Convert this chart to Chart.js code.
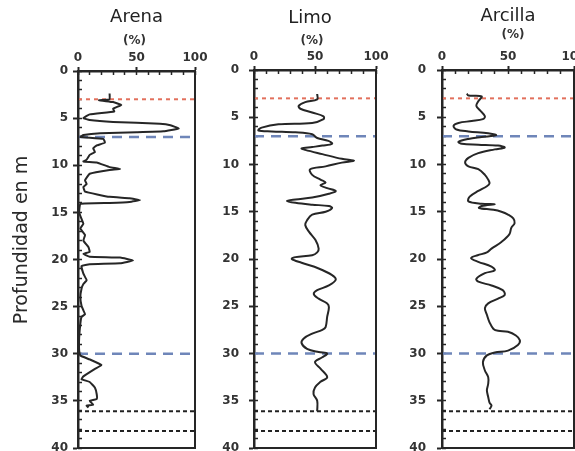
<!DOCTYPE html>
<html>
<head>
<meta charset="utf-8">
<script src="https://cdn.jsdelivr.net/npm/chart.js@4.4.1/dist/chart.umd.min.js"></script>
<style>
  html, body { margin: 0; padding: 0; background: #fff; overflow: hidden; width: 575px; height: 451px; }
  canvas { position: absolute; left: 0; top: 0; }
</style>
</head>
<body>
<canvas id="arena" width="575" height="451"></canvas>
<canvas id="limo" width="575" height="451"></canvas>
<canvas id="arcilla" width="600" height="451"></canvas>
<script>
// percent (x) against depth in m (y)
const arenaPct = [27, 27, 18, 30, 37, 30, 31, 10, 4.6, 10, 30, 70, 79, 86, 73, 50, 19, 4.6, 2, 21.7,
  23, 16, 13, 14.5, 10, 7.4, 4.6, 16, 27, 36, 27, 10, 6, 7.4, 4.6, 6, 27, 44, 53, 44,
  27, 2, 1, 3, 4.6, 2, 6, 4.6, 9, 10, 4.6, 10, 36, 47, 36, 10, 3, 4.6, 7.4, 4.6,
  3, 2, 3, 4.6, 6, 3, 2, 1, 1, 2, 10, 20, 14.5, 4.6, 3, 10, 14.5, 16, 16, 10,
  13, 7.4, 9];
const arenaDepth = [2.4, 3.0, 3.1, 3.3, 3.6, 4.0, 4.3, 4.6, 5.0, 5.2, 5.4, 5.6, 5.75, 6.1, 6.4, 6.5, 6.6, 6.8, 7.0, 7.2,
  7.6, 7.9, 8.2, 8.6, 8.9, 9.4, 9.6, 9.7, 10.2, 10.4, 10.5, 10.9, 11.6, 12.0, 12.3, 12.8, 13.35, 13.5, 13.7, 13.9,
  14.0, 14.1, 15.0, 15.7, 16.2, 16.7, 17.4, 18.0, 18.7, 19.2, 19.4, 19.7, 19.8, 20.1, 20.4, 20.5, 20.7, 21.5, 22.2, 22.6,
  23.1, 24.0, 24.9, 25.4, 25.8, 26.1, 26.8, 28.3, 29.7, 30.2, 30.6, 31.2, 31.6, 32.4, 32.7, 33.0, 33.6, 34.3, 34.8, 35.0,
  35.4, 35.5, 35.7];

const limoPct = [51.8, 51.8, 42, 36.6, 38, 47.7, 57, 57, 47.7, 20, 6.3, 3.6, 14.6, 34, 47.7, 51.8, 61, 64, 56, 47.7,
  39, 42, 56, 72, 82, 72, 58.7, 46, 47.7, 54.5, 58.7, 54.5, 60, 67, 61.4, 47.7, 34, 27, 34, 47.7,
  61.4, 64, 58.7, 47.7, 43.5, 42, 45, 50.4, 53, 51.8, 47.7, 34, 31, 39, 53, 64, 67, 61.4, 51.8, 49,
  53, 60, 61.4, 60, 58.7, 56, 47.7, 40.8, 39, 43.5, 53, 60, 56, 50, 54.5, 60, 54.5, 50, 48.8, 51.8,
  51.8];
const limoDepth = [2.55, 3.1, 3.4, 3.8, 4.1, 4.5, 4.9, 5.2, 5.6, 5.75, 6.1, 6.4, 6.5, 6.6, 6.8, 7.2, 7.5, 7.8, 8.0, 8.15,
  8.3, 8.45, 8.9, 9.4, 9.6, 9.8, 10.2, 10.5, 11.1, 11.6, 11.9, 12.2, 12.5, 12.8, 13.1, 13.5, 13.7, 13.85, 14.05, 14.25,
  14.4, 14.6, 15.0, 15.3, 15.9, 16.4, 17.1, 18.0, 18.9, 19.3, 19.6, 19.8, 20.0, 20.4, 21.0, 21.7, 22.2, 22.8, 23.3, 23.7,
  24.2, 24.7, 25.1, 26.1, 27.2, 27.5, 27.9, 28.4, 28.9, 29.5, 29.85, 30.0, 30.4, 30.9, 31.6, 32.5, 33.0, 33.6, 34.3, 35.0,
  36.1];

const arcillaPct = [18.8, 20, 30, 27.5, 26, 29, 32.5, 31, 22.5, 12.5, 8.75, 11, 20, 35, 41, 30, 20, 12.5, 15, 27.5,
  42.5, 47.5, 40, 27.5, 20, 17.5, 20, 27.5, 32.5, 35, 36, 34, 27.5, 21, 20, 30, 40, 30, 28, 39,
  45, 50, 54, 55, 52.5, 51, 45, 37.5, 34, 27, 22, 27.5, 37.5, 40, 32.5, 26, 27.5, 37.5, 46, 47.5,
  42.5, 35, 32.5, 34, 36, 39, 42.5, 50, 56, 59, 57.5, 50, 40, 34, 31, 32.5, 35, 35, 34, 35,
  36, 37.5, 36];
const arcillaDepth = [2.5, 2.7, 2.8, 3.3, 3.8, 4.3, 4.9, 5.2, 5.4, 5.6, 5.9, 6.3, 6.5, 6.7, 6.9, 7.1, 7.3, 7.6, 7.8, 7.9,
  8.0, 8.2, 8.4, 8.8, 9.3, 9.8, 10.2, 10.5, 11.1, 11.6, 12.0, 12.3, 12.8, 13.4, 13.9, 14.15, 14.2, 14.4, 14.6, 14.8,
  15.0, 15.3, 15.7, 16.2, 16.7, 17.4, 18.2, 18.9, 19.3, 19.6, 19.9, 20.3, 20.8, 21.2, 21.5, 22.1, 22.4, 22.8, 23.3, 23.8,
  24.2, 24.7, 25.2, 25.9, 26.7, 27.4, 27.6, 27.7, 28.1, 28.6, 29.1, 29.7, 29.9, 30.2, 30.9, 31.8, 32.5, 33.2, 33.9, 34.6,
  35.2, 35.5, 35.9];

// boundary levels (m)
const redLevels = [3];
const blueLevels = [7, 30];
const blackLevels = [36.1, 38.2];

const pctRange = [0, 100];
const depthRange = [0, 40];

const FONT = "'DejaVu Sans', sans-serif";
const INK = '#262626';

function toPoints(xs, ys) {
  return xs.map((x, i) => ({ x: x, y: ys[i] }));
}

function levelLine(depth, color, dash, width) {
  return {
    data: [{ x: pctRange[0], y: depth }, { x: pctRange[1], y: depth }],
    showLine: true,
    borderColor: color,
    borderDash: dash,
    borderWidth: width,
    pointRadius: 0
  };
}

// panel name, unit, frame and the shared depth label
const panelText = {
  id: 'panelText',
  afterDraw(chart, args, o) {
    const ctx = chart.ctx;
    const a = chart.chartArea;
    const cx = (a.left + a.right) / 2;
    ctx.save();
    ctx.strokeStyle = INK;
    ctx.lineWidth = 2;
    ctx.strokeRect(a.left, a.top, a.right - a.left, a.bottom - a.top);
    ctx.fillStyle = '#222';
    ctx.textAlign = 'center';
    ctx.textBaseline = 'middle';
    ctx.font = '18px ' + FONT;
    ctx.fillText(o.title, cx + o.titleDx, o.titleY);
    ctx.font = 'bold 12px ' + FONT;
    ctx.fillStyle = '#333';
    ctx.fillText('(%)', cx + o.unitDx, o.unitY);
    if (o.yLabel) {
      ctx.translate(22, 240);
      ctx.rotate(-Math.PI / 2);
      ctx.font = '19px ' + FONT;
      ctx.fillStyle = '#2a2a2a';
      ctx.fillText(o.yLabel, 0, 0);
    }
    ctx.restore();
  }
};

function makePanel(id, pct, depth, p) {
  const tickFont = { family: FONT, size: 12, weight: 'bold' };
  new Chart(document.getElementById(id), {
    type: 'scatter',
    data: {
      datasets: [
        { data: toPoints(pct, depth), showLine: true, borderColor: INK, borderWidth: 2, pointRadius: 0, tension: p.tension },
        ...redLevels.map(d => levelLine(d, '#e2705c', [4, 4], 2)),
        ...blueLevels.map(d => levelLine(d, '#6f86b9', [10, 7], 2.5)),
        ...blackLevels.map(d => levelLine(d, '#222', [4, 3], 2))
      ]
    },
    options: {
      responsive: false,
      animation: false,
      layout: { padding: { left: p.left - p.yWidth, right: p.canvasW - p.right, top: 0, bottom: 3 } },
      plugins: {
        legend: { display: false },
        tooltip: { enabled: false },
        panelText: { title: p.title, titleY: p.titleY, titleDx: p.titleDx, unitY: p.unitY, unitDx: p.unitDx, yLabel: p.yLabel }
      },
      scales: {
        x: {
          type: 'linear', position: 'top', min: pctRange[0], max: pctRange[1], weight: 1,
          ticks: { stepSize: 50, font: tickFont, color: '#333', padding: 2 },
          grid: { drawOnChartArea: false, tickLength: 4, tickWidth: 2, tickColor: INK },
          border: { color: INK, width: 2.5 },
          afterFit: s => { s.height = p.top; }
        },
        xMinor: {
          type: 'linear', position: 'top', min: pctRange[0], max: pctRange[1], weight: 0,
          ticks: { stepSize: 10, display: false },
          grid: { drawOnChartArea: false, tickLength: -4, tickWidth: 1.5, tickColor: INK },
          border: { display: false },
          afterFit: s => { s.height = 0; }
        },
        y: {
          type: 'linear', position: 'left', min: depthRange[0], max: depthRange[1], reverse: true, weight: 1,
          ticks: { stepSize: 5, font: tickFont, color: '#333', padding: p.yPad },
          grid: { drawOnChartArea: false, tickLength: 5, tickWidth: 2, tickColor: INK },
          border: { color: INK, width: 2.5 },
          afterFit: s => { s.width = p.yWidth; s.paddingTop = 0; s.paddingBottom = 0; }
        },
        yMinor: {
          type: 'linear', position: 'left', min: depthRange[0], max: depthRange[1], reverse: true, weight: 0,
          ticks: { stepSize: 1, display: false },
          grid: { drawOnChartArea: false, tickLength: -4, tickWidth: 1.5, tickColor: INK },
          border: { display: false },
          afterFit: s => { s.width = 0; s.paddingTop = 0; s.paddingBottom = 0; }
        }
      }
    },
    plugins: [panelText]
  });
}

makePanel('arena', arenaPct, arenaDepth, {
  title: 'Arena', titleY: 17, titleDx: 0, unitY: 41, unitDx: -2, yLabel: 'Profundidad en m',
  left: 78, right: 195, top: 71, yWidth: 78, yPad: 5, canvasW: 575, tension: 0.1
});
makePanel('limo', limoPct, limoDepth, {
  title: 'Limo', titleY: 18, titleDx: -5, unitY: 41, unitDx: -3,
  left: 254, right: 376, top: 70, yWidth: 60, yPad: 10, canvasW: 575, tension: 0.35
});
makePanel('arcilla', arcillaPct, arcillaDepth, {
  title: 'Arcilla', titleY: 16, titleDx: 0, unitY: 35, unitDx: 5,
  left: 442, right: 574, top: 70, yWidth: 60, yPad: 11, canvasW: 600, tension: 0.35
});
</script>
</body>
</html>
